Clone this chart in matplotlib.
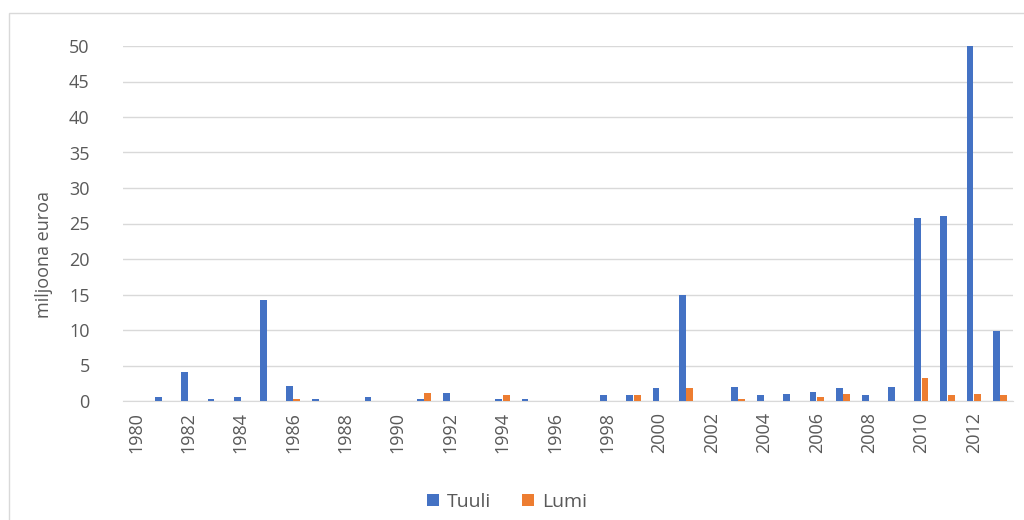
import matplotlib
matplotlib.use("Agg")
import matplotlib.pyplot as plt
import numpy as np
from matplotlib.patches import Rectangle

years = list(range(1980, 2014))
tuuli = [0, 0.6, 4.1, 0.3, 0.6, 14.2, 2.1, 0.3, 0, 0.6,
         0, 0.3, 1.1, 0, 0.3, 0.3, 0, 0, 0.8, 0.8,
         1.8, 15.0, 0, 2.0, 0.8, 1.0, 1.3, 1.8, 0.8, 2.0,
         25.8, 26.1, 50.0, 9.8]
lumi = [0, 0, 0, 0, 0, 0, 0.3, 0, 0, 0,
        0, 1.1, 0, 0, 0.8, 0, 0, 0, 0, 0.8,
        0, 1.8, 0, 0.3, 0, 0, 0.5, 1.0, 0, 0,
        3.3, 0.8, 1.0, 0.8]
yticks = list(range(0, 55, 5))
xtick_labels = [str(y) for y in range(1980, 2014, 2)]
series_names = ["Tuuli", "Lumi"]
colors = ["#4472C4", "#ED7D31"]

plt.rcParams['font.family'] = ['Open Sans', 'DejaVu Sans']

fig = plt.figure(figsize=(10.24, 5.2), dpi=100)
ax = fig.add_axes([123/1024, 1-401/520, (1013-123)/1024, (401-46)/520])

x = np.arange(len(years))
w = 0.26
ax.bar(x - 0.14, tuuli, width=w, color=colors[0], label=series_names[0], zorder=3)
ax.bar(x + 0.14, lumi, width=w, color=colors[1], label=series_names[1], zorder=3)

ax.set_xlim(-0.5, len(years) - 0.5)
ax.set_ylim(0, 50)
ax.set_yticks(yticks)
ax.set_yticklabels([str(v) for v in yticks], fontsize=13, color="#595959")
tick_pos = [years.index(int(l)) for l in xtick_labels]
ax.set_xticks(tick_pos)
ax.set_xticklabels(xtick_labels, rotation=90, fontsize=13, color="#595959")
ax.tick_params(axis='both', length=0)
ax.tick_params(axis='y', pad=24)
ax.tick_params(axis='x', pad=8)
ax.yaxis.grid(True, color="#d9d9d9", linewidth=1, zorder=0)
ax.set_axisbelow(True)
for s in ['top', 'right', 'left']:
    ax.spines[s].set_visible(False)
ax.spines['bottom'].set_color("#d9d9d9")

fig.text(44/1024, 1-255/520, "miljoona euroa", rotation=90, ha='center', va='center',
         fontsize=13, color="#595959")

leg = fig.legend(loc='center', bbox_to_anchor=(507/1024, 1-502/520), ncol=2, frameon=False,
                 fontsize=14, handlelength=0.6, handleheight=0.6, handletextpad=0.4,
                 columnspacing=1.6)
for t in leg.get_texts():
    t.set_color("#595959")

fig.patches.append(Rectangle((9/1024, -0.01), 1.0, 1-13/520+0.01, transform=fig.transFigure,
                             fill=False, edgecolor="#d9d9d9", linewidth=1))

fig.savefig("out.png", dpi=100, facecolor="white")
